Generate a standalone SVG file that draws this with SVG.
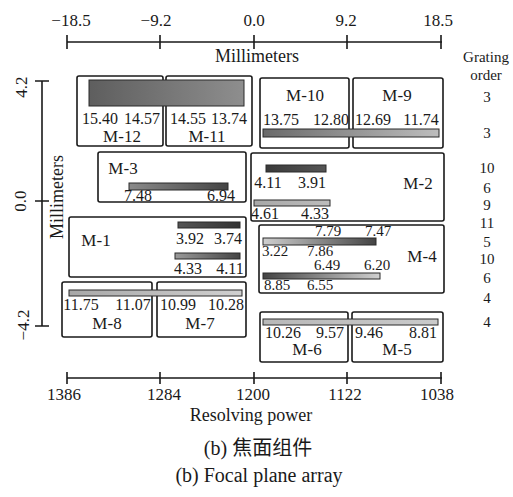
<svg xmlns="http://www.w3.org/2000/svg" width="513" height="497" viewBox="0 0 513 497">
<defs>
<style>
text{font-family:"Liberation Serif","Times New Roman",serif;fill:#1a1a1a}
.ax{font-size:17px;text-anchor:middle}
.n{font-size:16px;text-anchor:middle}
.m4{font-size:15px}
.lb{font-size:17px;text-anchor:middle}
.go{font-size:15px;text-anchor:middle}
.box{fill:#fff;stroke:#1a1a1a;stroke-width:1.6}
.bar{stroke:#2a2a2a;stroke-width:1}
.axl{stroke:#1a1a1a;stroke-width:1.6;fill:none}
.cap{font-size:20px;text-anchor:middle;font-family:"Liberation Serif","Times New Roman",serif}
.cjk{font-family:"Noto Sans CJK SC","Noto Sans CJK JP",sans-serif}
</style>
<linearGradient id="g12"><stop offset="0" stop-color="#5e5e5e"/><stop offset="1" stop-color="#8e8e8e"/></linearGradient>
<linearGradient id="g10"><stop offset="0" stop-color="#6a6a6a"/><stop offset="1" stop-color="#bdbdbd"/></linearGradient>
<linearGradient id="g3"><stop offset="0" stop-color="#8a8a8a"/><stop offset="1" stop-color="#444"/></linearGradient>
<linearGradient id="g1a"><stop offset="0" stop-color="#555"/><stop offset="1" stop-color="#333"/></linearGradient>
<linearGradient id="g1b"><stop offset="0" stop-color="#9a9a9a"/><stop offset="1" stop-color="#444"/></linearGradient>
<linearGradient id="g2a"><stop offset="0" stop-color="#3a3a3a"/><stop offset="1" stop-color="#555"/></linearGradient>
<linearGradient id="g2b"><stop offset="0" stop-color="#a8a8a8"/><stop offset="1" stop-color="#bcbcbc"/></linearGradient>
<linearGradient id="g4a"><stop offset="0" stop-color="#cfcfcf"/><stop offset="1" stop-color="#444"/></linearGradient>
<linearGradient id="g4b"><stop offset="0" stop-color="#444"/><stop offset="1" stop-color="#d0d0d0"/></linearGradient>
<linearGradient id="g8"><stop offset="0" stop-color="#a8a8a8"/><stop offset="1" stop-color="#d0d0d0"/></linearGradient>
<linearGradient id="g6"><stop offset="0" stop-color="#b8b8b8"/><stop offset="1" stop-color="#cacaca"/></linearGradient>
</defs>
<rect width="513" height="497" fill="#fff"/>

<g id="axis-top">
<path class="axl" d="M67 42H442M67 35V49M160 35V49M254 35V49M347 35V49M441 35V49"/>
<text class="ax" x="71" y="26">−18.5</text>
<text class="ax" x="156" y="26">−9.2</text>
<text class="ax" x="254" y="26">0.0</text>
<text class="ax" x="346" y="26">9.2</text>
<text class="ax" x="438" y="26">18.5</text>
<text class="lb" x="257" y="62" style="font-size:18px">Millimeters</text>
</g>

<g id="axis-left">
<path class="axl" d="M42 81V326M35 81H49M35 201H49M35 326H49"/>
<text class="ax" transform="translate(27,87) rotate(-90)">4.2</text>
<text class="ax" transform="translate(26,201) rotate(-90)">0.0</text>
<text class="ax" transform="translate(29,325) rotate(-90)">−4.2</text>
<text class="lb" transform="translate(63,197) rotate(-90)" style="font-size:18px">Millimeters</text>
</g>

<g id="axis-bottom">
<path class="axl" d="M67 378H442M67 372V384M160 372V384M254 372V384M347 372V384M441 372V384"/>
<text class="ax" x="64" y="400">1386</text>
<text class="ax" x="164" y="400">1284</text>
<text class="ax" x="253" y="400">1200</text>
<text class="ax" x="345" y="400">1122</text>
<text class="ax" x="437" y="400">1038</text>
<text class="lb" x="251" y="421" style="font-size:18px">Resolving power</text>
</g>

<g id="grating-order">
<text class="go" x="486" y="62">Grating</text>
<text class="go" x="486" y="80">order</text>
<text class="go" x="487" y="102">3</text>
<text class="go" x="487" y="138">3</text>
<text class="go" x="487" y="173">10</text>
<text class="go" x="487" y="193">6</text>
<text class="go" x="487" y="210">9</text>
<text class="go" x="487" y="228">11</text>
<text class="go" x="487" y="247">5</text>
<text class="go" x="487" y="264">10</text>
<text class="go" x="487" y="283">6</text>
<text class="go" x="487" y="303">4</text>
<text class="go" x="487" y="327">4</text>
</g>

<g id="M-12"><rect class="box" x="77" y="76" width="86" height="70" rx="2"/>
<text class="n" x="100" y="124">15.40</text><text class="n" x="142" y="124">14.57</text>
<text class="lb" x="122" y="142">M-12</text></g>
<g id="M-11"><rect class="box" x="166" y="76" width="86" height="70" rx="2"/>
<text class="n" x="188" y="124">14.55</text><text class="n" x="229" y="124">13.74</text>
<text class="lb" x="207" y="142">M-11</text></g>

<g id="M-10"><rect class="box" x="260" y="78" width="89" height="70" rx="2"/>
<text class="lb" x="305" y="101">M-10</text>
<text class="n" x="281" y="125">13.75</text><text class="n" x="331" y="125">12.80</text></g>
<g id="M-9"><rect class="box" x="353" y="78" width="90" height="70" rx="2"/>
<text class="lb" x="397" y="101">M-9</text>
<text class="n" x="373" y="125">12.69</text><text class="n" x="421" y="125">11.74</text></g>

<g id="M-3"><rect class="box" x="98" y="152" width="148" height="50" rx="2"/>
<text class="lb" x="123" y="174">M-3</text>
<rect class="bar" x="129" y="183" width="99" height="7" fill="url(#g3)"/>
<text class="n" x="138" y="201">7.48</text><text class="n" x="221" y="201">6.94</text></g>

<g id="M-2"><rect class="box" x="251" y="153" width="193" height="68" rx="2"/>
<rect class="bar" x="266" y="165" width="60" height="7" fill="url(#g2a)"/>
<text class="n" x="268" y="188">4.11</text><text class="n" x="312" y="188">3.91</text>
<text class="lb" x="418" y="189">M-2</text>
<rect class="bar" x="254" y="200" width="76" height="6" fill="url(#g2b)"/>
<text class="n" x="265" y="219">4.61</text><text class="n" x="315" y="219">4.33</text></g>

<g id="M-1"><rect class="box" x="69" y="217" width="177" height="60" rx="2"/>
<text class="lb" x="96" y="246">M-1</text>
<rect class="bar" x="178" y="222" width="62" height="6" fill="url(#g1a)"/>
<text class="n" x="190" y="244">3.92</text><text class="n" x="228" y="244">3.74</text>
<rect class="bar" x="175" y="253" width="65" height="6" fill="url(#g1b)"/>
<text class="n" x="188" y="274">4.33</text><text class="n" x="230" y="274">4.11</text></g>

<g id="M-4"><rect class="box" x="259" y="225" width="185" height="68" rx="2"/>
<text class="n m4" x="328" y="236">7.79</text><text class="n m4" x="378" y="236">7.47</text>
<rect class="bar" x="263" y="238" width="113" height="7" fill="url(#g4a)"/>
<text class="n m4" x="275" y="256">3.22</text><text class="n m4" x="320" y="256">7.86</text>
<text class="lb" x="422" y="262">M-4</text>
<text class="n m4" x="327" y="270">6.49</text><text class="n m4" x="377" y="270">6.20</text>
<rect class="bar" x="263" y="273" width="117" height="6" fill="url(#g4b)"/>
<text class="n m4" x="277" y="290">8.85</text><text class="n m4" x="320" y="290">6.55</text></g>

<g id="M-8"><rect class="box" x="62" y="282" width="90" height="55" rx="2"/>
<text class="n" x="81" y="310">11.75</text><text class="n" x="133" y="310">11.07</text>
<text class="lb" x="107" y="329">M-8</text></g>
<g id="M-7"><rect class="box" x="157" y="282" width="89" height="55" rx="2"/>
<text class="n" x="178" y="310">10.99</text><text class="n" x="226" y="310">10.28</text>
<text class="lb" x="200" y="329">M-7</text></g>

<g id="M-6"><rect class="box" x="260" y="312" width="88" height="50" rx="2"/>
<text class="n" x="283" y="338">10.26</text><text class="n" x="330" y="338">9.57</text>
<text class="lb" x="307" y="355">M-6</text></g>
<g id="M-5"><rect class="box" x="352" y="312" width="91" height="50" rx="2"/>
<text class="n" x="369" y="338">9.46</text><text class="n" x="423" y="338">8.81</text>
<text class="lb" x="397" y="355">M-5</text></g>

<g id="shared-bars">
<rect class="bar" x="89" y="80" width="155" height="26" fill="url(#g12)"/>
<rect class="bar" x="263" y="129" width="176" height="8" fill="url(#g10)"/>
<rect class="bar" x="69" y="290" width="173" height="6" fill="url(#g8)"/>
<rect class="bar" x="263" y="319" width="175" height="6" fill="url(#g6)"/>
</g>

<g id="captions">
<text class="cap" x="258" y="455">(b) <tspan class="cjk">焦面组件</tspan></text>
<text class="cap" x="259" y="482">(b) Focal plane array</text>
</g>
</svg>
